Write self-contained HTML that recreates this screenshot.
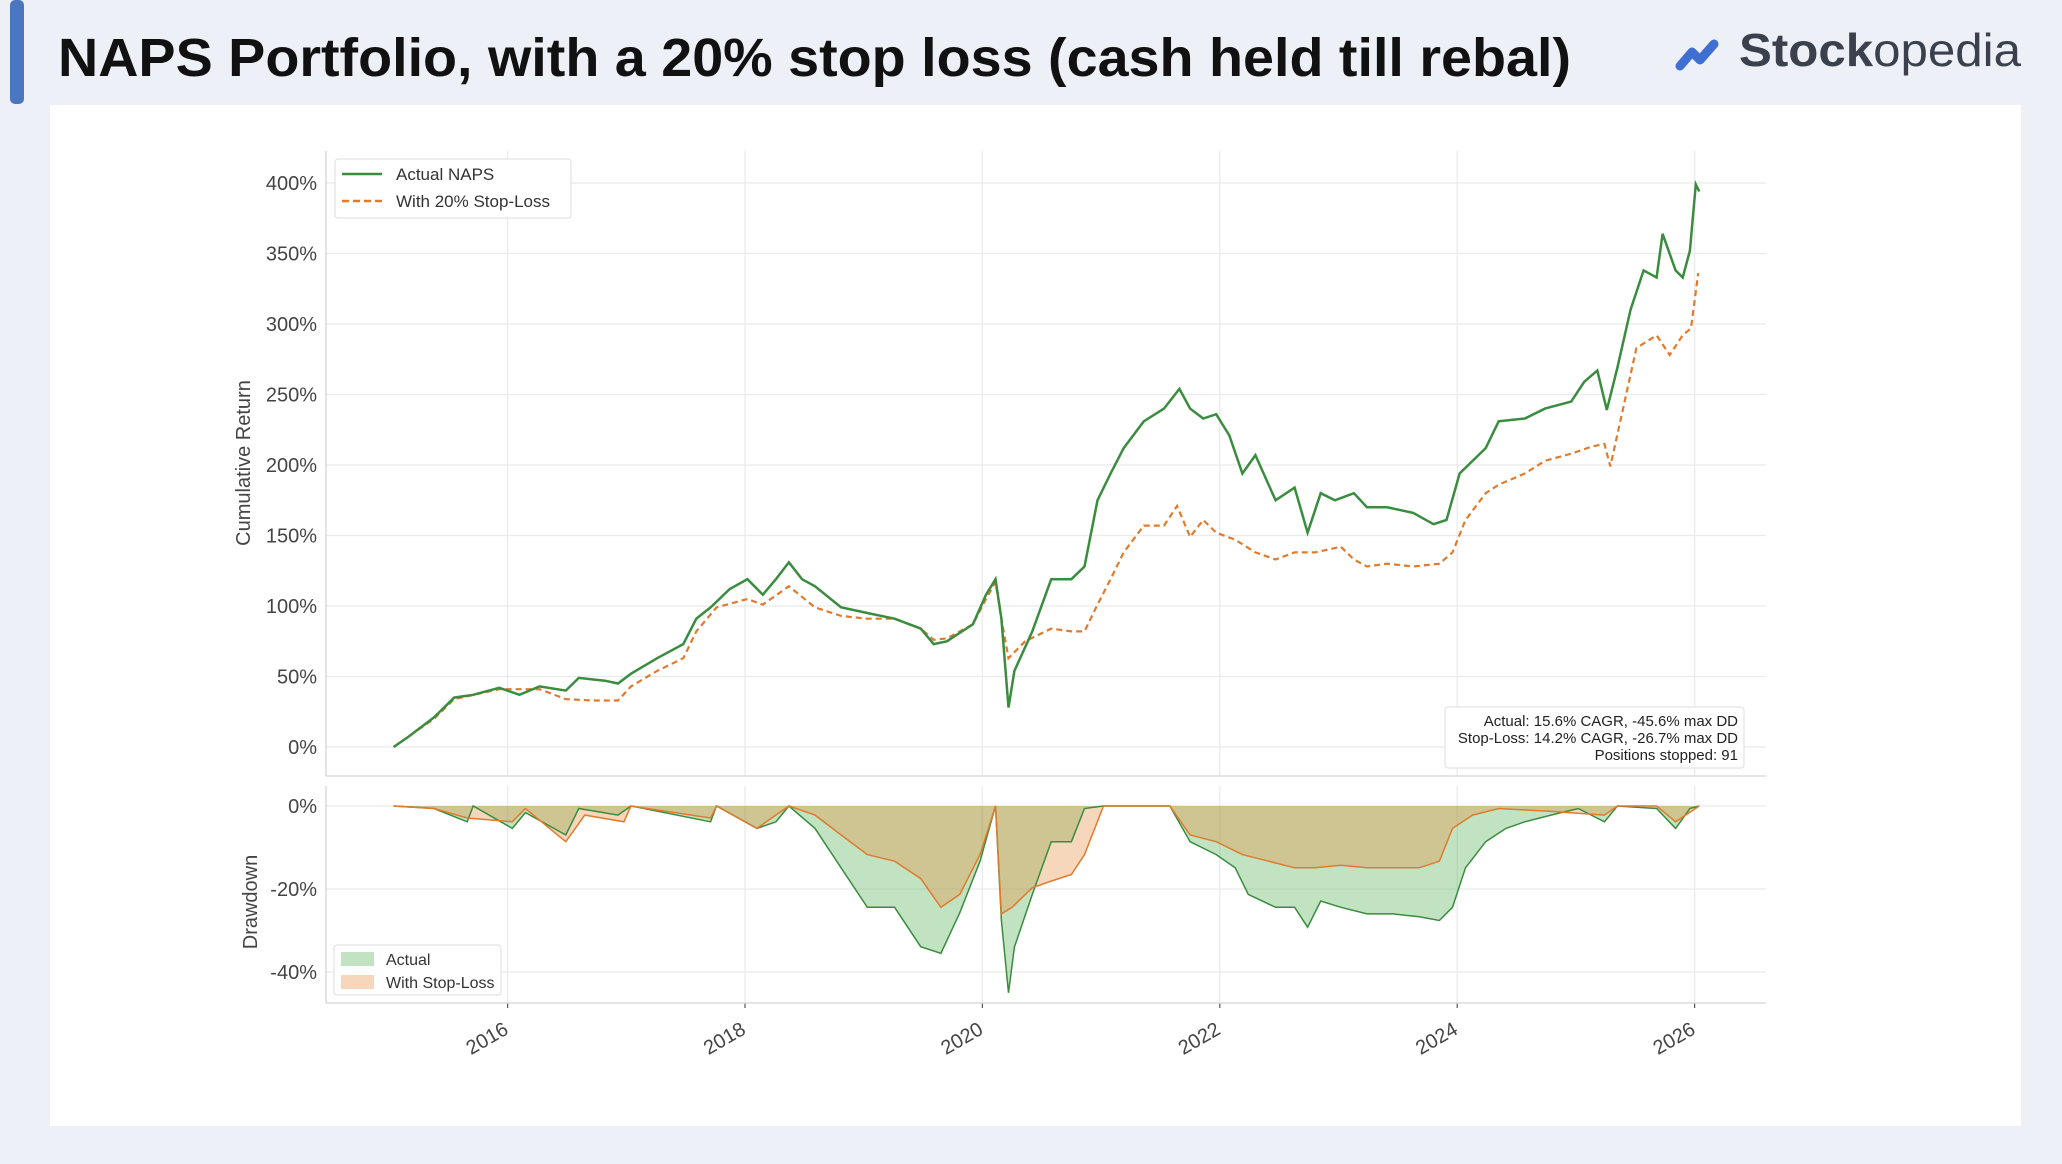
<!DOCTYPE html>
<html><head><meta charset="utf-8"><style>
html,body{margin:0;padding:0;background:#eef0f8;}
svg{display:block;font-family:"Liberation Sans",sans-serif;}
</style></head><body>
<svg id="chart" width="2062" height="1164" viewBox="0 0 2062 1164" xmlns="http://www.w3.org/2000/svg">
<rect width="2062" height="1164" fill="#eef0f8"/>
<rect x="10" y="0" width="14" height="104" rx="5" fill="#4a76c2"/>
<text x="58" y="76" font-size="54" font-weight="bold" fill="#111" textLength="1513" lengthAdjust="spacingAndGlyphs">NAPS Portfolio, with a 20% stop loss (cash held till rebal)</text>
<g>
<path d="M1680 66 L1692 52 L1700 60 L1714 44" stroke="#3f6fd1" stroke-width="9" fill="none" stroke-linecap="round" stroke-linejoin="round"/>
<text x="1739" y="66" font-size="46" fill="#3a414d" textLength="282" lengthAdjust="spacingAndGlyphs"><tspan font-weight="bold">Stock</tspan>opedia</text>
</g>
<rect x="50" y="105" width="1971" height="1021" fill="#ffffff"/>
<g id="grid"></g>
<g id="marks"></g>
<g id="axes"></g>
<text transform="translate(250,463) rotate(-90)" text-anchor="middle" font-size="20" fill="#444">Cumulative Return</text>
<text transform="translate(257,902) rotate(-90)" text-anchor="middle" font-size="20" fill="#444">Drawdown</text>
<g>
<rect x="335" y="159" width="236" height="59" rx="3" fill="#fff" stroke="#ddd"/>
<line x1="342" y1="174" x2="382" y2="174" stroke="#3a8c3f" stroke-width="2.5"/>
<text x="396" y="180" font-size="17" fill="#333">Actual NAPS</text>
<line x1="342" y1="201" x2="382" y2="201" stroke="#e07b2e" stroke-width="2.5" stroke-dasharray="7,4"/>
<text x="396" y="207" font-size="17" fill="#333">With 20% Stop-Loss</text>
</g>
<g>
<rect x="1445" y="707" width="299" height="61" rx="3" fill="#fff" stroke="#ddd"/>
<text x="1738" y="726" text-anchor="end" font-size="15" fill="#222">Actual: 15.6% CAGR, -45.6% max DD</text>
<text x="1738" y="743" text-anchor="end" font-size="15" fill="#222">Stop-Loss: 14.2% CAGR, -26.7% max DD</text>
<text x="1738" y="760" text-anchor="end" font-size="15" fill="#222">Positions stopped: 91</text>
</g>
<g>
<rect x="334" y="945" width="167" height="50" rx="3" fill="#fff" stroke="#ddd"/>
<rect x="341" y="952" width="33" height="14" fill="rgba(76,175,80,0.35)"/>
<text x="386" y="965" font-size="16" fill="#333">Actual</text>
<rect x="341" y="975" width="33" height="14" fill="rgba(232,140,60,0.35)"/>
<text x="386" y="988" font-size="16" fill="#333">With Stop-Loss</text>
</g>
</svg>
<script>
const actDates=[2015.04,2015.16,2015.38,2015.55,2015.71,2015.93,2016.10,2016.27,2016.49,2016.60,2016.82,2016.93,2017.04,2017.26,2017.48,2017.59,2017.71,2017.87,2018.02,2018.15,2018.26,2018.37,2018.48,2018.59,2018.81,2019.03,2019.26,2019.48,2019.59,2019.70,2019.92,2020.03,2020.11,2020.16,2020.22,2020.27,2020.42,2020.58,2020.75,2020.86,2020.97,2021.08,2021.19,2021.36,2021.53,2021.66,2021.75,2021.86,2021.97,2022.08,2022.19,2022.30,2022.47,2022.63,2022.74,2022.85,2022.97,2023.13,2023.24,2023.41,2023.63,2023.80,2023.91,2024.02,2024.24,2024.35,2024.57,2024.74,2024.96,2025.07,2025.18,2025.26,2025.35,2025.46,2025.57,2025.68,2025.73,2025.84,2025.90,2025.96,2026.01,2026.04];
const actValues=[0,7,21,35,37,42,37,43,40,49,47,45,52,63,73,91,99,112,119,108,119,131,119,114,99,95,91,84,73,75,87,108,119,91,28,54,82,119,119,128,175,194,212,231,240,254,240,233,236,221,194,207,175,184,152,180,175,180,170,170,166,158,161,194,212,231,233,240,245,259,267,239,269,310,338,333,364,338,333,352,399,394];
const slDates=[2015.04,2015.38,2015.55,2015.93,2016.27,2016.49,2016.71,2016.93,2017.04,2017.26,2017.48,2017.59,2017.76,2018.02,2018.15,2018.37,2018.59,2018.81,2019.03,2019.26,2019.48,2019.59,2019.70,2019.92,2020.03,2020.11,2020.16,2020.22,2020.36,2020.58,2020.75,2020.86,2020.97,2021.08,2021.19,2021.36,2021.53,2021.64,2021.75,2021.86,2021.97,2022.13,2022.30,2022.47,2022.63,2022.80,2023.02,2023.13,2023.24,2023.41,2023.63,2023.85,2023.96,2024.07,2024.24,2024.35,2024.57,2024.74,2024.96,2025.13,2025.24,2025.29,2025.40,2025.51,2025.68,2025.79,2025.90,2025.97,2026.03];
const slValues=[0,20,34,41,41,34,33,33,43,54,63,82,99,105,101,114,99,93,91,91,84,76,77,87,105,117,91,63,75,84,82,82,101,119,138,157,157,171,149,161,152,147,138,133,138,138,142,133,128,130,128,130,138,161,180,186,194,203,208,213,215,199,241,283,292,278,292,297,336];
const ddActDates=[2015.04,2015.38,2015.66,2015.71,2016.04,2016.15,2016.49,2016.60,2016.93,2017.04,2017.71,2017.76,2018.10,2018.26,2018.37,2018.59,2018.81,2019.03,2019.26,2019.48,2019.65,2019.81,2019.98,2020.11,2020.16,2020.22,2020.27,2020.42,2020.58,2020.75,2020.86,2021.02,2021.58,2021.75,2021.97,2022.13,2022.24,2022.47,2022.63,2022.74,2022.85,2023.02,2023.24,2023.46,2023.68,2023.85,2023.96,2024.07,2024.24,2024.41,2024.57,2024.79,2025.02,2025.24,2025.35,2025.68,2025.84,2025.96,2026.04];
const ddActValues=[0,-0.6,-3.8,0,-5.4,-1.6,-7,-0.6,-2.2,0,-3.8,0,-5.4,-3.8,0,-5.4,-14.9,-24.4,-24.4,-33.9,-35.5,-25.7,-13.3,0,-27.6,-45,-34,-21.3,-8.6,-8.6,-0.6,0,0,-8.6,-11.7,-14.9,-21.3,-24.4,-24.4,-29.2,-22.9,-24.4,-26,-26,-26.7,-27.6,-24.4,-14.9,-8.6,-5.4,-3.8,-2.2,-0.6,-3.8,0,-0.6,-5.4,-0.6,0];
const ddSlDates=[2015.04,2015.38,2015.66,2016.04,2016.15,2016.49,2016.65,2016.98,2017.04,2017.71,2017.76,2018.10,2018.37,2018.59,2018.81,2019.03,2019.26,2019.48,2019.65,2019.81,2019.98,2020.11,2020.16,2020.25,2020.42,2020.58,2020.75,2020.86,2021.02,2021.58,2021.75,2021.97,2022.19,2022.41,2022.63,2022.80,2023.02,2023.24,2023.46,2023.68,2023.85,2023.96,2024.13,2024.35,2024.79,2025.24,2025.35,2025.68,2025.84,2026.04];
const ddSlValues=[0,-0.6,-2.9,-3.8,-0.6,-8.6,-2.2,-3.8,0,-2.9,0,-5.4,0,-2.2,-7,-11.7,-13.3,-17.5,-24.4,-21.3,-11.7,0,-26,-24.4,-19.7,-18.1,-16.5,-11.7,0,0,-7,-8.6,-11.7,-13.3,-14.9,-14.9,-14.3,-14.9,-14.9,-14.9,-13.3,-5.4,-2.2,-0.6,-1.3,-2.2,0,0,-3.8,0];
const yearTicks=[2016,2018,2020,2022,2024,2026];
const topTicks=[0,50,100,150,200,250,300,350,400];
const ddTicks=[0,-20,-40];

const NS='http://www.w3.org/2000/svg';
const X0=326,X1=1766,TT=151,TB=776,BT=786,BB=1003;
function xs(yr){return 507.6+(yr-2016)*118.7;}
function yTop(v){return 747-v*1.41;}
function yDd(d){return 806-d*4.15;}
function mk(tag,attrs,parent){const e=document.createElementNS(NS,tag);for(const k in attrs)e.setAttribute(k,attrs[k]);parent.appendChild(e);return e;}
const grid=document.getElementById('grid'),marks=document.getElementById('marks'),axes=document.getElementById('axes');

yearTicks.forEach(function(yr){
  const x=xs(yr);
  const g1=mk('line',{x1:x,x2:x,y1:TT,y2:TB,stroke:'#ebebeb','stroke-width':1.3},grid);
  
  
  const g2=mk('line',{x1:x,x2:x,y1:BT,y2:BB,stroke:'#ebebeb','stroke-width':1.3},grid);
  
  
  const tk=mk('line',{x1:x,x2:x,y1:BB,y2:BB+5,stroke:'#555','stroke-width':1.2},axes);
  
  
  const t=mk('text',{transform:'translate('+(x+2)+','+(BB+30)+') rotate(-30)','text-anchor':'end','font-size':20,fill:'#444'},axes);
  t.textContent=String(yr);
  
  
});
topTicks.forEach(function(v){
  const y=yTop(v);
  const g=mk('line',{x1:X0,x2:X1,y1:y,y2:y,stroke:'#ebebeb','stroke-width':1.3},grid);
  
  
  const t=mk('text',{x:317,y:y+7,'text-anchor':'end','font-size':20,fill:'#444'},axes);
  t.textContent=v+'%';
  
  
});
ddTicks.forEach(function(v){
  const y=yDd(v);
  const g=mk('line',{x1:X0,x2:X1,y1:y,y2:y,stroke:'#ebebeb','stroke-width':1.3},grid);
  
  
  const t=mk('text',{x:317,y:y+7,'text-anchor':'end','font-size':20,fill:'#444'},axes);
  t.textContent=v+'%';
  
  
});
[[X0,TT,X0,TB],[X0,TB,X1,TB],[X0,BT,X0,BB],[X0,BB,X1,BB]].forEach(function(s){
  const l=mk('line',{x1:s[0],y1:s[1],x2:s[2],y2:s[3],stroke:'#dcdcdc','stroke-width':1.5},axes);
  
  
});

function linePath(ds,vs,fy){return ds.map(function(d,i){return (i?'L':'M')+xs(d).toFixed(1)+' '+fy(vs[i]).toFixed(1);}).join(' ');}
function areaPath(ds,vs){return linePath(ds,vs,yDd)+' L'+xs(ds[ds.length-1]).toFixed(1)+' '+yDd(0)+' L'+xs(ds[0]).toFixed(1)+' '+yDd(0)+' Z';}

const fa=mk('path',{d:areaPath(ddActDates,ddActValues),fill:'rgba(76,175,80,0.35)'},marks);


const fs=mk('path',{d:areaPath(ddSlDates,ddSlValues),fill:'rgba(232,140,60,0.35)'},marks);


const la=mk('path',{d:linePath(ddActDates,ddActValues,yDd),fill:'none',stroke:'#3a8c3f','stroke-width':1.5},marks);


const ls=mk('path',{d:linePath(ddSlDates,ddSlValues,yDd),fill:'none',stroke:'#e07b2e','stroke-width':1.5},marks);



const sl=mk('path',{d:linePath(slDates,slValues,yTop),fill:'none',stroke:'#e07b2e','stroke-width':2.2,'stroke-dasharray':'6,4'},marks);


const ac=mk('path',{d:linePath(actDates,actValues,yTop),fill:'none',stroke:'#3a8c3f','stroke-width':2.5},marks);


</script>
</body></html>
